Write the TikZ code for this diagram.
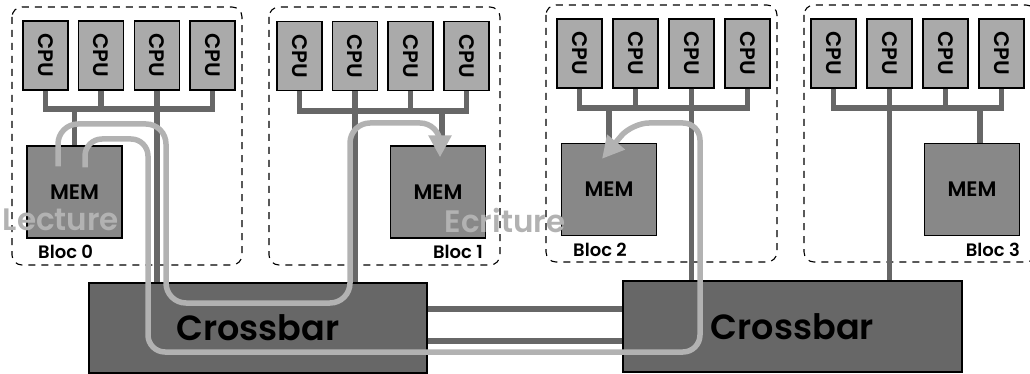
\documentclass[tikz,border=0pt]{standalone}
\usepackage{fontspec}
\setmainfont{Poppins}[BoldFont={Poppins SemiBold}]
\usepackage{graphicx}
\usetikzlibrary{arrows.meta,calc}
\definecolor{cpugray}{HTML}{AAAAAA}
\definecolor{memgray}{HTML}{888888}
\definecolor{xbargray}{HTML}{676767}
\definecolor{flowgray}{HTML}{B2B2B2}
\tikzset{
  cpubox/.style={draw=black, line width=1.3pt, fill=cpugray, minimum width=45pt,
    minimum height=69pt, inner sep=0pt, font=\bfseries\fontsize{21}{21}\selectfont},
  membox/.style={draw=black, line width=1.3pt, fill=memgray, minimum width=95pt,
    minimum height=92pt, inner sep=0pt, font=\bfseries\fontsize{21}{21}\selectfont},
  xbarbox/.style={draw=black, line width=1.3pt, fill=xbargray, minimum width=338pt,
    minimum height=90pt, inner sep=0pt, font=\bfseries\fontsize{35}{35}\selectfont},
  blocframe/.style={draw=black, line width=1.1pt, dash pattern=on 7pt off 6pt,
    rounded corners=10pt},
  bus/.style={draw=xbargray, line width=5.5pt},
  link/.style={draw=xbargray, line width=6pt},
  flow/.style={draw=flowgray, line width=5.5pt, rounded corners=20pt,
    -{Triangle[length=22pt, width=22pt]}},
  bloctxt/.style={font=\bfseries\fontsize{18}{18}\selectfont, inner sep=0pt},
  flowtxt/.style={font=\bfseries\fontsize{31}{31}\selectfont, text=flowgray, inner sep=0pt},
}
% CPU drops and bus of one block: #1 block, #2 bus y
\newcommand{\cpubus}[2]{
  \coordinate (bus#1) at (0,#2);
  \draw[bus] (c#10.south) -- (c#10.south |- bus#1) -- (c#13.south |- bus#1) -- (c#13.south);
  \draw[bus] (c#11.south) -- (c#11.south |- bus#1);
  \draw[bus] (c#12.south) -- (c#12.south |- bus#1);
}

\begin{document}
\begin{tikzpicture}[x=1pt, y=-1pt]
  \clip (0,0) rectangle (1030,374);

  %% ---- block frames ----
  \draw[blocframe] (12,7) rectangle (242,265);
  \draw[blocframe] (269,7) rectangle (500,265);
  \draw[blocframe] (546,5) rectangle (777,262);
  \draw[blocframe] (804,5) rectangle (1036,262);

  %% ---- Bloc 0 ----
  \node[cpubox] (c00) at (45.5,55.5) {\rotatebox{-90}{CPU}};
  \node[cpubox] (c01) at (101,55.5)  {\rotatebox{-90}{CPU}};
  \node[cpubox] (c02) at (157,55.5)  {\rotatebox{-90}{CPU}};
  \node[cpubox] (c03) at (212.5,55.5) {\rotatebox{-90}{CPU}};
  \node[membox] (m0) at (74.5,192) {MEM};
  \node[bloctxt, anchor=west] (l0) at (38,252) {Bloc 0};

  %% ---- Bloc 1 ----
  \node[cpubox] (c10) at (299.5,56) {\rotatebox{-90}{CPU}};
  \node[cpubox] (c11) at (355,56)   {\rotatebox{-90}{CPU}};
  \node[cpubox] (c12) at (410.5,56) {\rotatebox{-90}{CPU}};
  \node[cpubox] (c13) at (466.5,56) {\rotatebox{-90}{CPU}};
  \node[membox] (m1) at (438,192) {MEM};
  \node[bloctxt, anchor=east] (l1) at (483,252) {Bloc 1};

  %% ---- Bloc 2 ----
  \node[cpubox] (c20) at (579.5,53.5) {\rotatebox{-90}{CPU}};
  \node[cpubox] (c21) at (635.5,53.5) {\rotatebox{-90}{CPU}};
  \node[cpubox] (c22) at (691.5,53.5) {\rotatebox{-90}{CPU}};
  \node[cpubox] (c23) at (747.5,53.5) {\rotatebox{-90}{CPU}};
  \node[membox] (m2) at (609,189.5) {MEM};
  \node[bloctxt, anchor=west] (l2) at (573,250) {Bloc 2};

  %% ---- Bloc 3 ----
  \node[cpubox] (c30) at (833.5,53.5) {\rotatebox{-90}{CPU}};
  \node[cpubox] (c31) at (889.5,53.5) {\rotatebox{-90}{CPU}};
  \node[cpubox] (c32) at (945.5,53.5) {\rotatebox{-90}{CPU}};
  \node[cpubox] (c33) at (1001.5,53.5) {\rotatebox{-90}{CPU}};
  \node[membox] (m3) at (972,189.5) {MEM};
  \node[bloctxt, anchor=east] (l3) at (1020,250) {Bloc 3};

  %% ---- crossbars ----
  \node[xbarbox] (xl) at (258,328) {Crossbar};
  \node[xbarbox, minimum width=339pt, minimum height=91pt] (xr) at (792.5,326.5) {Crossbar};

  %% ---- buses ----
  \cpubus{0}{109}
  \cpubus{1}{111}
  \cpubus{2}{108}
  \cpubus{3}{108}

  \coordinate (d1) at ($(m1.north)+(4,0)$);
  \coordinate (d3) at ($(m3.north)+(8,0)$);
  \draw[bus] (m0.north |- bus0) -- (m0.north);
  \draw[bus] (d1 |- bus1) -- (d1);
  \draw[bus] (m2.north |- bus2) -- (m2.north);
  \draw[bus] (d3 |- bus3) -- (d3);

  \draw[bus] (c02.south) -- (c02.south |- xl.north);
  \draw[bus] (c11.south) -- (c11.south |- xl.north);
  \draw[bus] (c22.south) -- (c22.south |- xr.north);
  \draw[bus] (c31.south) -- (c31.south |- xr.north);

  \coordinate (lk1) at (0,309);
  \coordinate (lk2) at (0,341);
  \draw[link] (xl.east |- lk1) -- (xr.west |- lk1);
  \draw[link] (xl.east |- lk2) -- (xr.west |- lk2);

  %% ---- read / write flows ----
  \node[flowtxt] (rd) at (61,220) {Lecture};
  \node[flowtxt] (wr) at (505,220) {Ecriture};

  \coordinate (fa0) at ($(m0.north)+(-16.5,21)$);
  \coordinate (fa1) at ($(m1.north)+(2,12)$);
  \coordinate (fb0) at ($(m0.north)+(10.5,22)$);
  \coordinate (fb1) at ($(m2.north)+(-7,16)$);
  \draw[flow] (fa0) -- (58,124) -- (166,124) -- (166,303) -- (350,303)
    -- (350,123) -- (440,123) -- (fa1);
  \draw[flow, rounded corners=17pt] (fb0) -- (85,139) -- (148,139) -- (148,352)
    -- (700,352) -- (700,123) -- (632,123) -- (fb1);

\end{tikzpicture}
\end{document}
